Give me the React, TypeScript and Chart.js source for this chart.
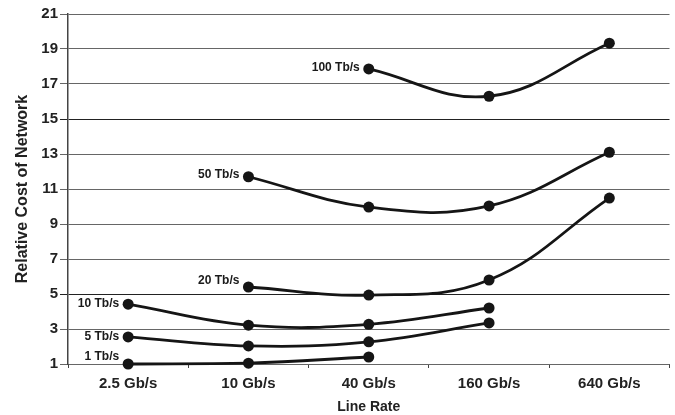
import React, { useEffect, useRef } from "react";
import { Chart, registerables } from "chart.js";

Chart.register(...registerables);

const categories = ["2.5 Gb/s", "10 Gb/s", "40 Gb/s", "160 Gb/s", "640 Gb/s"];
const seriesNames = ["1 Tb/s", "5 Tb/s", "10 Tb/s", "20 Tb/s", "50 Tb/s", "100 Tb/s"];
const tb1 = [1.0, 1.05, 1.4, null, null];
const tb5 = [2.55, 2.03, 2.27, 3.35, null];
const tb10 = [4.42, 3.22, 3.27, 4.2, null];
const tb20 = [null, 5.4, 4.94, 5.8, 10.48];
const tb50 = [null, 11.7, 9.97, 10.03, 13.1];
const tb100 = [null, null, 17.86, 16.3, 19.33];
const yTicks = [1, 3, 5, 7, 9, 11, 13, 15, 17, 19, 21];
const yTitle = "Relative Cost of Network";
const xTitle = "Line Rate";

// styling: vertical nudge of each series label
const labelDy = [-7, 0, 0, -6, -2, -1];

const FONT = "'Liberation Sans', Arial, sans-serif";

const seriesLabelPlugin = {
  id: "seriesLabels",
  afterDatasetsDraw(chart: any) {
    const ctx = chart.ctx;
    ctx.save();
    ctx.font = `bold 12px ${FONT}`;
    ctx.fillStyle = "#1a1a1a";
    ctx.textAlign = "right";
    ctx.textBaseline = "middle";
    chart.data.datasets.forEach((ds: any, i: number) => {
      const idx = ds.data.findIndex((v: any) => v !== null);
      if (idx < 0) return;
      const pt = chart.getDatasetMeta(i).data[idx];
      ctx.fillText(ds.label, pt.x - 9, pt.y + labelDy[i]);
    });
    ctx.restore();
  },
};

export default function App() {
  const ref = useRef<HTMLCanvasElement>(null);
  useEffect(() => {
    document.body.style.margin = "0";
    document.body.style.overflow = "hidden";
    const all = [tb1, tb5, tb10, tb20, tb50, tb100];
    const chart = new Chart(ref.current!, {
      type: "line",
      data: {
        labels: categories,
        datasets: all.map((d, i) => ({
          label: seriesNames[i],
          data: d,
          borderColor: "#151515",
          backgroundColor: "#151515",
          borderWidth: 2.8,
          tension: 0.4,
          pointRadius: 5.5,
          pointBorderWidth: 0,
          pointBackgroundColor: "#151515",
          spanGaps: false,
          clip: false as any,
        })),
      },
      options: {
        animation: false,
        responsive: false,
        layout: { padding: { top: 14, right: 2, left: 0, bottom: 0 } },
        plugins: { legend: { display: false }, tooltip: { enabled: false } },
        scales: {
          x: {
            offset: true,
            grid: {
              display: true,
              drawOnChartArea: false,
              offset: true,
              tickLength: 4,
              color: "#444",
            },
            border: { display: false },
            ticks: {
              padding: 7,
              color: "#222",
              font: { family: FONT, size: 15, weight: "bold" },
              maxRotation: 0,
            },
            title: {
              display: true,
              text: xTitle,
              color: "#222",
              font: { family: FONT, size: 14, weight: "bold" },
              padding: { top: 0, bottom: 9 },
            },
            afterFit(scale: any) {
              scale.height = 61;
            },
          },
          y: {
            min: 1,
            max: 21,
            afterBuildTicks(scale: any) {
              scale.ticks = yTicks.map((v) => ({ value: v }));
            },
            grid: {
              color: (c: any) =>
                c.tick && (c.tick.value === 15 || c.tick.value === 5) ? "#222" : "#666",
              lineWidth: 1,
              tickLength: 8,
            },
            border: { display: true, color: "#444", width: 1.5 },
            ticks: {
              padding: 2,
              color: "#222",
              font: { family: FONT, size: 15, weight: "bold" },
            },
            title: {
              display: true,
              text: yTitle,
              color: "#222",
              font: { family: FONT, size: 16, weight: "bold" },
              padding: { top: 13, bottom: 0 },
            },
            afterFit(scale: any) {
              scale.width = 68;
            },
          },
        },
      },
      plugins: [seriesLabelPlugin],
    });
    return () => chart.destroy();
  }, []);
  return <canvas ref={ref} width={675} height={425} style={{ display: "block" }} />;
}
